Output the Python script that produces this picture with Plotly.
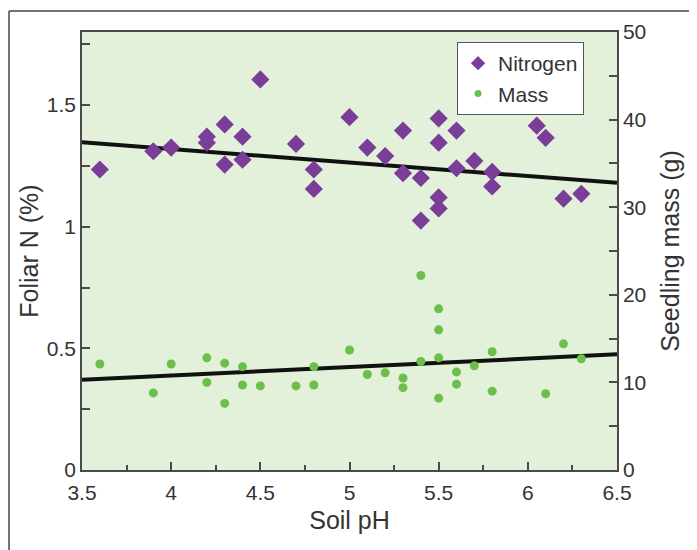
import plotly.graph_objects as go

# Nitrogen (%) vs soil pH
n_ph = [3.6, 3.9, 4.0, 4.2, 4.2, 4.3, 4.3, 4.4, 4.4, 4.5, 4.7, 4.8, 4.8, 5.0, 5.1, 5.2,
        5.3, 5.3, 5.4, 5.4, 5.5, 5.5, 5.5, 5.5, 5.6, 5.6, 5.7, 5.8, 5.8, 6.05, 6.1, 6.2, 6.3]
n_val = [1.235, 1.31, 1.325, 1.37, 1.345, 1.42, 1.255, 1.37, 1.275, 1.605, 1.34, 1.235, 1.155,
         1.45, 1.325, 1.29, 1.395, 1.22, 1.2, 1.025, 1.445, 1.345, 1.12, 1.075, 1.395, 1.24,
         1.27, 1.225, 1.165, 1.415, 1.365, 1.115, 1.135]

# Seedling mass (g) vs soil pH
m_ph = [3.6, 3.9, 4.0, 4.2, 4.2, 4.3, 4.3, 4.4, 4.4, 4.5, 4.7, 4.8, 4.8, 5.0, 5.1, 5.2,
        5.3, 5.3, 5.4, 5.4, 5.5, 5.5, 5.5, 5.5, 5.6, 5.6, 5.7, 5.8, 5.8, 6.1, 6.2, 6.3]
m_val = [12.1, 8.8, 12.1, 12.8, 10.0, 12.2, 7.6, 11.8, 9.7, 9.6, 9.6, 11.8, 9.7, 13.7, 10.9,
         11.1, 10.5, 9.4, 22.2, 12.4, 18.4, 16.0, 12.8, 8.2, 11.2, 9.8, 11.9, 13.5, 9.0, 8.7,
         14.4, 12.7]

# Trend lines (endpoints)
trend_x = [3.5, 6.5]
trend_n = [1.347, 1.18]
trend_m = [10.3, 13.2]

x_ticks = [3.5, 4, 4.5, 5, 5.5, 6, 6.5]
x_labels = ["3.5", "4", "4.5", "5", "5.5", "6", "6.5"]
yl_ticks = [0, 0.5, 1, 1.5]
yl_labels = ["0", "0.5", "1", "1.5"]
yr_ticks = [0, 10, 20, 30, 40, 50]

purple = "#7a3d98"
green = "#6cc04a"
txt = "#333333"
axc = "#4a4a4a"
font = "Liberation Sans, Arial, sans-serif"

fig = go.Figure()
fig.add_trace(go.Scatter(x=trend_x, y=trend_n, mode="lines", line=dict(color="#111111", width=4),
                         showlegend=False, hoverinfo="skip"))
fig.add_trace(go.Scatter(x=trend_x, y=trend_m, mode="lines", line=dict(color="#111111", width=4),
                         showlegend=False, hoverinfo="skip", yaxis="y2"))
fig.add_trace(go.Scatter(x=n_ph, y=n_val, mode="markers", name="Nitrogen", showlegend=False,
                         marker=dict(symbol="diamond", size=14, color=purple)))
fig.add_trace(go.Scatter(x=m_ph, y=m_val, mode="markers", name="Mass", yaxis="y2", showlegend=False,
                         marker=dict(symbol="circle", size=9, color=green)))
# legend entries (smaller symbols as in the reference legend)
fig.add_trace(go.Scatter(x=[None], y=[None], mode="markers", name="Nitrogen",
                         marker=dict(symbol="diamond", size=11, color=purple)))
fig.add_trace(go.Scatter(x=[None], y=[None], mode="markers", name="Mass",
                         marker=dict(symbol="circle", size=7, color=green)))

axis_common = dict(showline=True, linecolor=axc, linewidth=1.5, showgrid=False,
                   zeroline=False, ticks="inside", tickcolor=axc, tickwidth=1.5,
                   ticklen=8, tickfont=dict(size=21, color=txt, family=font))

fig.update_layout(
    width=689, height=542,
    margin=dict(l=74, r=80, t=24, b=80),
    paper_bgcolor="white", plot_bgcolor="#e3f0da",
    font=dict(family=font, color=txt),
    xaxis=dict(range=[3.5, 6.5], tickvals=x_ticks, ticktext=x_labels, mirror=True,
               ticklabelstandoff=3,
               minor=dict(dtick=0.25, tick0=3.5, ticks="inside", ticklen=5, tickcolor=axc, tickwidth=1.5),
               title=dict(text="Soil pH", font=dict(size=25, color=txt, family=font), standoff=9),
               **axis_common),
    yaxis=dict(range=[0, 1.8], tickvals=yl_ticks, ticktext=yl_labels,
               minor=dict(dtick=0.25, tick0=0, ticks="inside", ticklen=8, tickcolor=axc, tickwidth=1.5),
               title=dict(text="Foliar N (%)", font=dict(size=25, color=txt, family=font), standoff=1),
               **axis_common),
    yaxis2=dict(range=[0, 50], tickvals=yr_ticks, overlaying="y", side="right",
                minor=dict(dtick=5, tick0=0, ticks="inside", ticklen=8, tickcolor=axc, tickwidth=1.5),
                title=dict(text="Seedling mass (g)", font=dict(size=25, color=txt, family=font), standoff=16),
                **axis_common),
    legend=dict(x=0.701, y=0.977, xanchor="left", yanchor="top",
                bgcolor="white", bordercolor="#555555", borderwidth=1,
                font=dict(size=21, color=txt, family=font),
                tracegroupgap=0),
    shapes=[
        dict(type="line", xref="paper", yref="paper", x0=-0.1364, x1=1.1495, y0=1.048, y1=1.048,
             line=dict(color="#444444", width=1.5)),
        dict(type="line", xref="paper", yref="paper", x0=-0.1364, x1=-0.1364, y0=1.048, y1=-0.2,
             line=dict(color="#444444", width=1.5)),
    ],
)

fig.write_html("out.html")
